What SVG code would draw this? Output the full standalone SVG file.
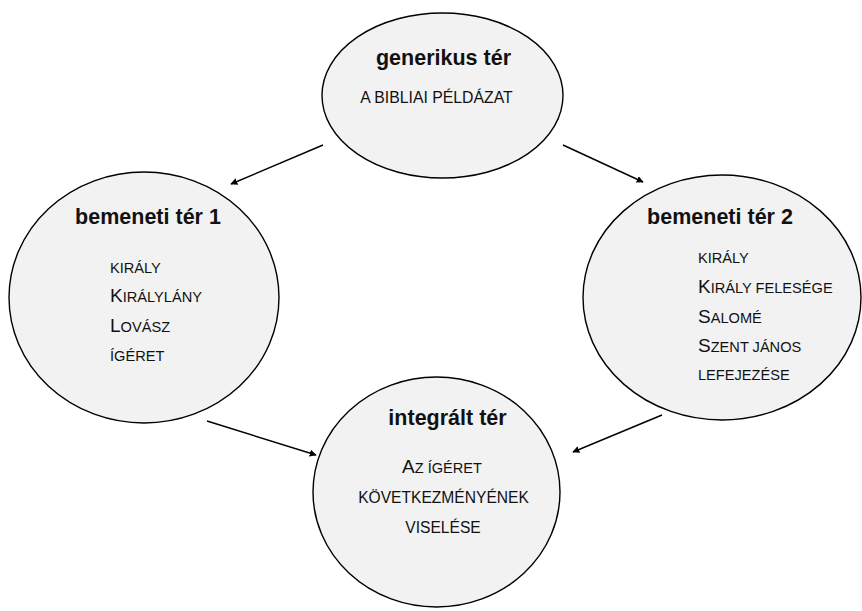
<svg xmlns="http://www.w3.org/2000/svg" width="862" height="611" viewBox="0 0 862 611">
<style>
.c{fill:#f2f2f2;stroke:#000;stroke-width:1.4}
.t{font-family:"Liberation Sans",Arial,sans-serif;font-weight:bold;font-size:21.5px;fill:#111;text-anchor:middle}
.s{font-family:"Liberation Sans",Arial,sans-serif;font-size:14.6px;fill:#111}
.b{font-size:19px}
.m{text-anchor:middle}
.a{stroke:#000;stroke-width:1.4;fill:none;marker-end:url(#ah)}
</style>
<defs>
<marker id="ah" viewBox="0 0 10 10" refX="9" refY="5" markerWidth="7" markerHeight="7" orient="auto" markerUnits="userSpaceOnUse">
<path d="M0,0 L10,5 L0,10 z" fill="#000"/>
</marker>
</defs>
<rect width="862" height="611" fill="#fff"/>
<g id="connectors">
<line class="a" x1="323" y1="145" x2="231" y2="184"/>
<line class="a" x1="563" y1="145" x2="643" y2="182"/>
<line class="a" x1="207" y1="421" x2="316" y2="455"/>
<line class="a" x1="662" y1="415" x2="573" y2="452"/>
</g>
<g id="generikus">
<ellipse class="c" cx="442.5" cy="95.5" rx="120.5" ry="82.5"/>
<text class="t" x="443.5" y="65">generikus tér</text>
<text class="s m" x="436.5" y="103" style="font-size:15.8px">A BIBLIAI PÉLDÁZAT</text>
</g>
<g id="bemeneti1">
<ellipse class="c" cx="144" cy="297.5" rx="135" ry="125.5"/>
<text class="t" x="148" y="224">bemeneti tér 1</text>
<text class="s" x="110" y="273">KIRÁLY</text>
<text class="s" x="110" y="302"><tspan class="b">K</tspan>IRÁLYLÁNY</text>
<text class="s" x="110" y="332"><tspan class="b">L</tspan>OVÁSZ</text>
<text class="s" x="110" y="361">ÍGÉRET</text>
</g>
<g id="bemeneti2">
<ellipse class="c" cx="722" cy="297.5" rx="139" ry="122.5"/>
<text class="t" x="720" y="224">bemeneti tér 2</text>
<text class="s" x="698" y="263">KIRÁLY</text>
<text class="s" x="698" y="293"><tspan class="b">K</tspan>IRÁLY FELESÉGE</text>
<text class="s" x="698" y="323"><tspan class="b">S</tspan>ALOMÉ</text>
<text class="s" x="698" y="352"><tspan class="b">S</tspan>ZENT JÁNOS</text>
<text class="s" x="698" y="380">LEFEJEZÉSE</text>
</g>
<g id="integralt">
<ellipse class="c" cx="436.5" cy="492" rx="123.5" ry="115"/>
<text class="t" x="447.5" y="425">integrált tér</text>
<text class="s m" x="442" y="473"><tspan class="b">A</tspan>Z ÍGÉRET</text>
<text class="s m" x="443.5" y="503" style="font-size:15.6px">KÖVETKEZMÉNYÉNEK</text>
<text class="s m" x="443" y="533" style="font-size:15.6px">VISELÉSE</text>
</g>
</svg>
